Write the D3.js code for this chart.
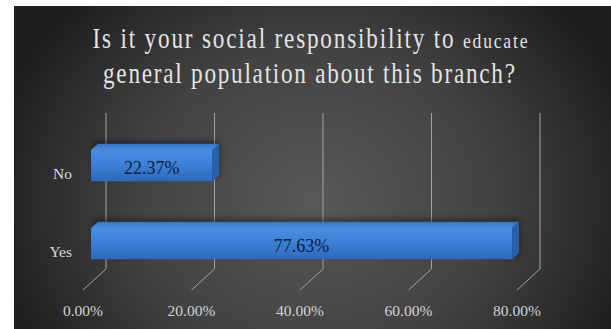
<!DOCTYPE html>
<html>
<head>
<meta charset="utf-8">
<script src="https://cdn.jsdelivr.net/npm/d3@7/dist/d3.min.js"></script>
<style>
  html, body { margin: 0; padding: 0; background: #ffffff; }
  svg { display: block; }
</style>
</head>
<body>
<svg id="chart" width="611" height="329"></svg>
<script>
// Survey answers and their shares (percent)
const categories = ["No", "Yes"];
const values = [22.37, 77.63];
const tickValues = [0, 20, 40, 60, 80];
const tickLabels = ["0.00%", "20.00%", "40.00%", "60.00%", "80.00%"];
const titleLine1 = "Is it your social responsibility to ";
const titleSmall = "educate";
const titleLine2 = "general population about this branch?";

const svg = d3.select("#chart");
const W = 611, H = 329;
const serif = "'Liberation Serif', 'Times New Roman', serif";

// --- background panel with soft radial light ---
const defs = svg.append("defs");
const bg = defs.append("radialGradient")
  .attr("id", "bgGrad")
  .attr("gradientUnits", "userSpaceOnUse")
  .attr("cx", 315).attr("cy", 200).attr("r", 330)
  .attr("gradientTransform", "translate(315,200) scale(1,0.85) translate(-315,-200)");
bg.append("stop").attr("offset", "0%").attr("stop-color", "#585858");
bg.append("stop").attr("offset", "55%").attr("stop-color", "#424242");
bg.append("stop").attr("offset", "100%").attr("stop-color", "#1e1e1e");

const frontGrad = defs.append("linearGradient").attr("id", "frontGrad")
  .attr("x1", 0).attr("y1", 0).attr("x2", 0).attr("y2", 1);
frontGrad.append("stop").attr("offset", "0%").attr("stop-color", "#4a8fe2");
frontGrad.append("stop").attr("offset", "45%").attr("stop-color", "#3d80d6");
frontGrad.append("stop").attr("offset", "100%").attr("stop-color", "#2d69bc");

const topGrad = defs.append("linearGradient").attr("id", "topGrad")
  .attr("x1", 0).attr("y1", 0).attr("x2", 0).attr("y2", 1);
topGrad.append("stop").attr("offset", "0%").attr("stop-color", "#3672c2");
topGrad.append("stop").attr("offset", "100%").attr("stop-color", "#4b8fe0");

const blur = defs.append("filter").attr("id", "shadow")
  .attr("x", "-20%").attr("y", "-50%").attr("width", "140%").attr("height", "200%");
blur.append("feGaussianBlur").attr("stdDeviation", 3);

svg.append("rect")
  .attr("x", 14).attr("y", 6)
  .attr("width", W - 14).attr("height", H - 6)
  .attr("fill", "url(#bgGrad)");

// --- scales on the back wall, plus a depth offset toward the viewer ---
const x = d3.scaleLinear().domain([0, 80]).range([106, 540]);
const y = d3.scaleBand().domain(categories).range([113, 269])
  .paddingInner(0.6).paddingOuter(0.3);
const depth = { dx: -23, dy: 21 };
const tBack = 0.35, tFront = 0.65;
const wallTop = y.range()[0], wallBottom = y.range()[1];

// --- gridlines: back wall verticals folding forward along the floor ---
const grid = svg.append("g").attr("stroke", "#a3a3a3").attr("stroke-width", 1).attr("fill", "none");
grid.selectAll("path").data(tickValues).join("path")
  .attr("d", v => {
    const xb = x(v);
    return `M${xb},${wallTop} L${xb},${wallBottom} L${xb + depth.dx},${wallBottom + depth.dy}`;
  });

// --- axis tick labels on the front edge of the floor ---
svg.append("g").selectAll("text").data(tickValues).join("text")
  .attr("x", v => x(v) + depth.dx)
  .attr("y", wallBottom + depth.dy + 20)
  .attr("text-anchor", "middle")
  .attr("dominant-baseline", "central")
  .attr("font-family", serif)
  .attr("font-size", 15.5)
  .attr("fill", "#d2d2d2")
  .text((v, i) => tickLabels[i]);

// --- category labels ---
svg.append("g").selectAll("text").data(categories).join("text")
  .attr("x", 72)
  .attr("y", c => y(c) + y.bandwidth() / 2 + depth.dy)
  .attr("text-anchor", "end")
  .attr("dominant-baseline", "central")
  .attr("font-family", serif)
  .attr("font-size", 15.5)
  .attr("fill", "#dadada")
  .text(c => c);

// --- 3D bars ---
const rows = categories.map((c, i) => ({ c, v: values[i] }));
const bars = svg.append("g").selectAll("g").data(rows).join("g");
const fx = t => depth.dx * t, fy = t => depth.dy * t;
const bw = y.bandwidth();

// soft shadow behind each bar
bars.append("rect")
  .attr("x", d => x(0) + fx(tBack) - 4)
  .attr("y", d => y(d.c) + fy(tBack) - 2)
  .attr("width", d => x(d.v) - x(0) + 4)
  .attr("height", bw + 4)
  .attr("fill", "#000")
  .attr("opacity", 0.5)
  .attr("filter", "url(#shadow)");

// top face
bars.append("path")
  .attr("d", d => {
    const x0 = x(0) + fx(tFront), x1 = x(d.v) + fx(tFront), y0 = y(d.c) + fy(tFront);
    const ox = fx(tBack) - fx(tFront), oy = fy(tBack) - fy(tFront);
    return `M${x0},${y0} L${x1},${y0} L${x1 + ox},${y0 + oy} L${x0 + ox},${y0 + oy} Z`;
  })
  .attr("fill", "url(#topGrad)");

// right side face
bars.append("path")
  .attr("d", d => {
    const x1 = x(d.v) + fx(tFront), y0 = y(d.c) + fy(tFront);
    const ox = fx(tBack) - fx(tFront), oy = fy(tBack) - fy(tFront);
    return `M${x1},${y0} L${x1 + ox},${y0 + oy} L${x1 + ox},${y0 + oy + bw} L${x1},${y0 + bw} Z`;
  })
  .attr("fill", "#2a5fab");

// front face
bars.append("rect")
  .attr("x", d => x(0) + fx(tFront))
  .attr("y", d => y(d.c) + fy(tFront))
  .attr("width", d => x(d.v) - x(0))
  .attr("height", bw)
  .attr("fill", "url(#frontGrad)");

// value labels
bars.append("text")
  .attr("x", d => (x(0) + x(d.v)) / 2 + fx(tFront))
  .attr("y", d => y(d.c) + fy(tFront) + bw / 2 + 2)
  .attr("text-anchor", "middle")
  .attr("dominant-baseline", "central")
  .attr("font-family", serif)
  .attr("font-size", 18)
  .attr("fill", "#0e2142")
  .text(d => d.v.toFixed(2) + "%");

// --- title (two lines, narrow letterforms with open tracking) ---
const sx = 0.8;
const titleG = svg.append("g").attr("fill", "#e4e4e4").attr("font-family", serif);

function titleLine(parts, cx, baseline, width) {
  const g = titleG.append("g").attr("transform", `translate(${cx},${baseline}) scale(${sx},1)`);
  const t = g.append("text").attr("text-anchor", "middle");
  parts.forEach(p => t.append("tspan").attr("font-size", p.size).text(p.text));
  t.attr("textLength", width / sx).attr("lengthAdjust", "spacing");
  return t;
}
titleLine([{ text: titleLine1, size: 29 }, { text: titleSmall, size: 22 }], 310, 48, 435);
titleLine([{ text: titleLine2, size: 29 }], 309, 83, 412);
</script>
</body>
</html>
